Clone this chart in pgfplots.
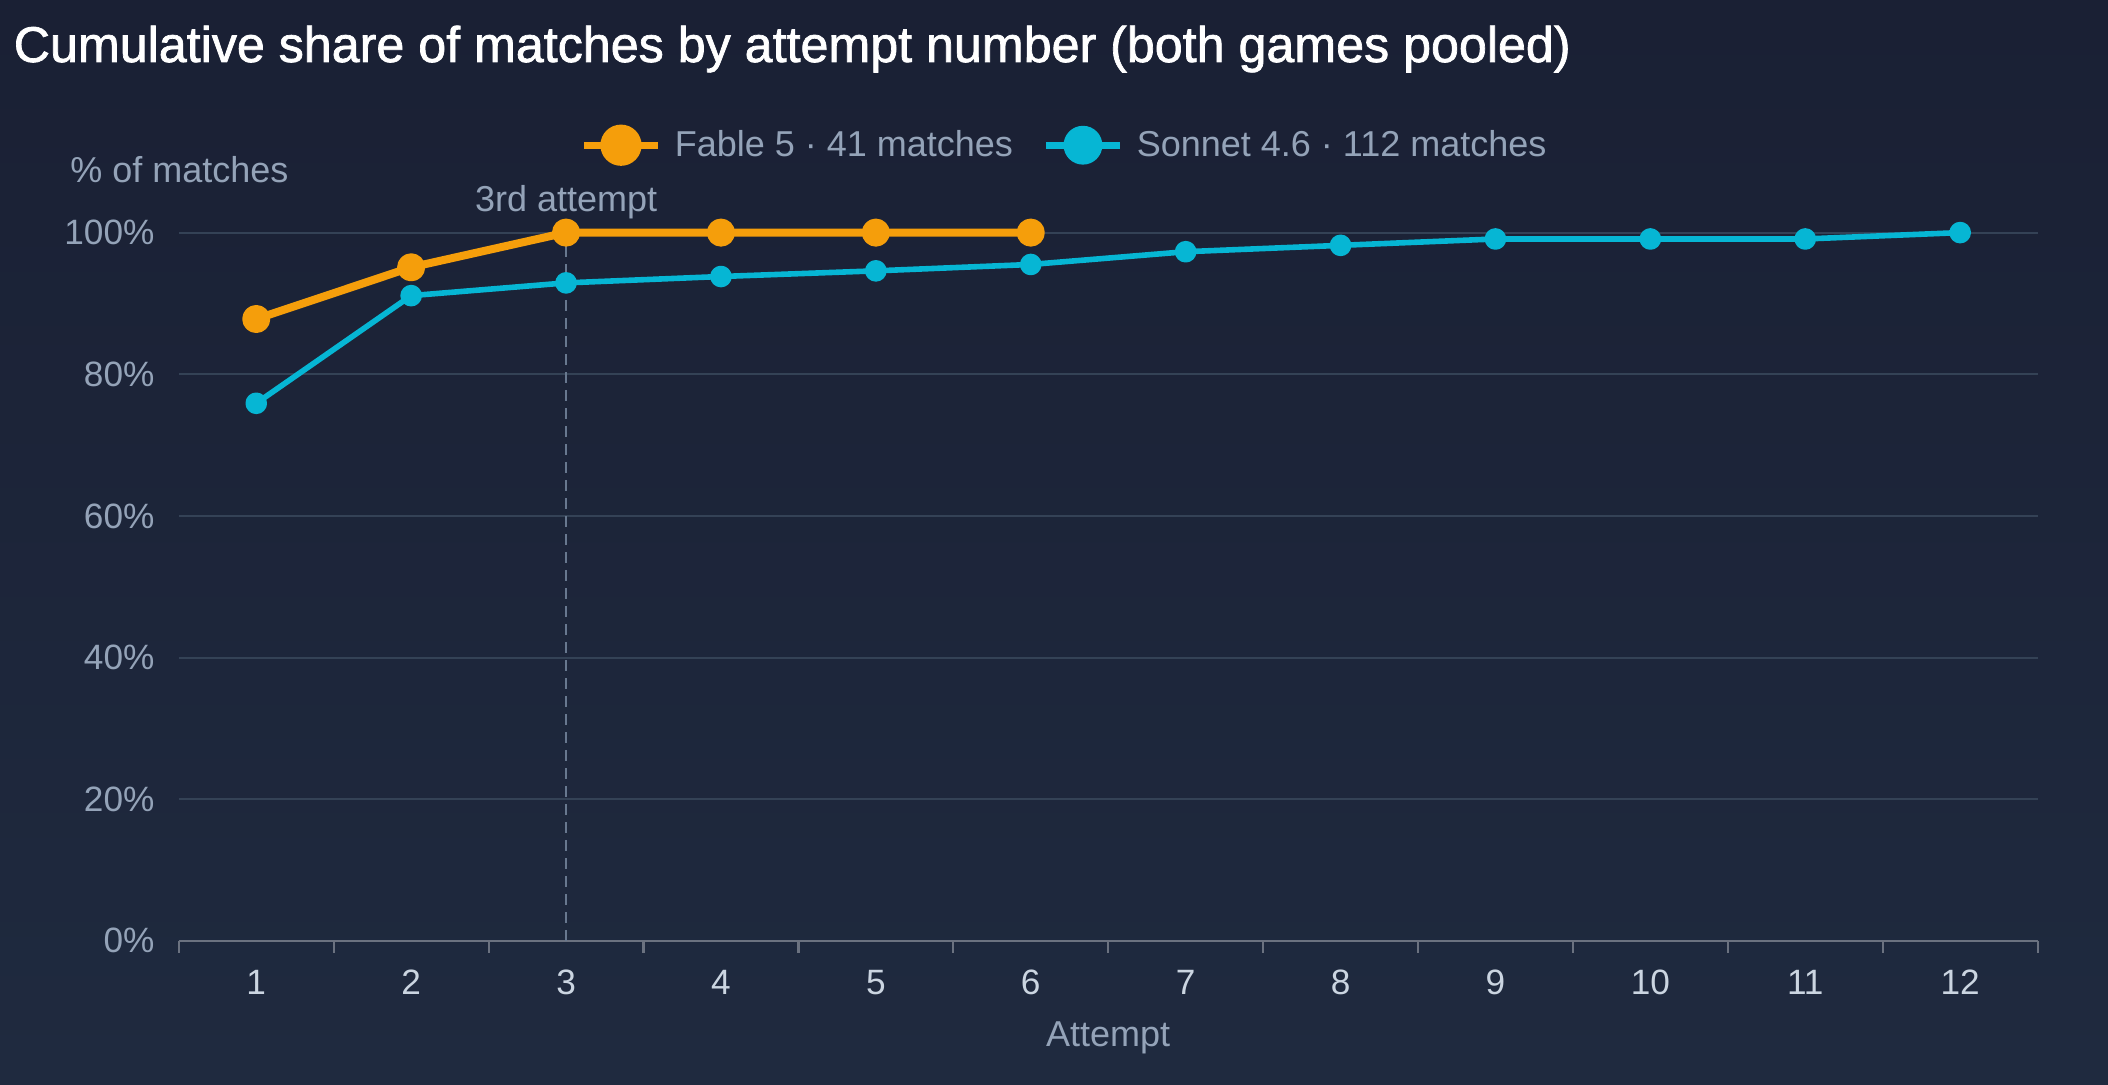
\documentclass[border=0pt]{standalone}
\usepackage{pgfplots}
\pgfplotsset{compat=1.18}
\usepackage{fontspec}
\setmainfont{Liberation Sans}
\newfontfamily\titlefont[FakeBold=1.4]{Liberation Sans}
\definecolor{bgtop}{HTML}{1A2034}
\definecolor{bgbot}{HTML}{1F2A3F}
\definecolor{gridc}{HTML}{344256}
\definecolor{axisc}{HTML}{6B7280}
\definecolor{labc}{HTML}{94A3B8}
\definecolor{tickc}{HTML}{CBD5E1}
\definecolor{fable}{HTML}{F59E0B}
\definecolor{sonnet}{HTML}{06B6D4}
\definecolor{dashc}{HTML}{68788F}
\begin{document}
\begin{tikzpicture}
\shade[top color=bgtop, bottom color=bgbot] (0,0) rectangle (1054pt,542pt);
\node[anchor=base west, text=white, font=\titlefont\fontsize{25.1}{28}\selectfont, inner sep=0pt] at (6.7pt,511pt) {Cumulative share of matches by attempt number (both games pooled)};
\node[anchor=west, text=labc, font=\fontsize{18}{20}\selectfont, inner sep=0pt] at (35pt,457.3pt) {\% of matches};
\begin{axis}[
  at={(89.4pt,71.6pt)}, anchor=south west,
  scale only axis, width=929.4pt, height=354.1pt,
  xmin=0.5, xmax=12.5, ymin=0, ymax=100,
  clip=false,
  axis x line*=bottom, axis y line*=left,
  y axis line style={draw=none},
  x axis line style={axisc, line width=1.1pt, -},
  xtick={1,...,12},
  minor xtick={0.5,1.5,...,12.5},
  major tick length=0pt, minor tick length=6pt,
  tick align=outside,
  minor tick style={axisc, line width=1.1pt},
  major tick style={draw=none},
  ytick={0,20,...,100},
  ymajorgrids, major grid style={gridc, line width=1pt},
  /pgf/number format/assume math mode=true,
  yticklabel={\pgfmathprintnumber{\tick}\%},
  yticklabel style={anchor=east, inner sep=0pt, xshift=-12pt, text=labc, font=\fontsize{17.6}{19}\selectfont},
  xticklabel style={anchor=base, inner sep=0pt, yshift=-27pt, text=tickc, font=\fontsize{17.6}{19}\selectfont},
  xlabel={Attempt},
  xlabel style={at={(axis description cs:0.5,0)}, anchor=base, yshift=-53pt, text=labc, font=\fontsize{18}{20}\selectfont, inner sep=0pt},
  legend columns=-1,
  legend style={at={(axis description cs:0.2161,1.1234)}, anchor=west, draw=none, fill=none, inner sep=0pt, outer sep=0pt,
    text=labc, font=\fontsize{18}{20}\selectfont,
    nodes={inner sep=0pt},
    /tikz/every even column/.append style={column sep=14.7pt},
    /tikz/every odd column/.append style={column sep=6.7pt}},
  legend cell align=left,
]
\addplot[fable, line width=4pt, line join=round, mark=*, mark size=5pt,
  legend image code/.code={\draw[fable, line width=3.5pt] (0pt,0pt) -- (37pt,0pt); \fill[fable] (18.5pt,0pt) circle (8.3pt);}]
  coordinates {(1,87.8) (2,95.1) (3,100) (4,100) (5,100) (6,100)};
\addlegendentry{Fable 5 · 41 matches}
\addplot[sonnet, line width=2.8pt, line join=round, mark=*, mark size=4pt,
  legend image code/.code={\draw[sonnet, line width=3.5pt] (0pt,0pt) -- (37pt,0pt); \fill[sonnet] (18.5pt,0pt) circle (8.3pt);}]
  coordinates {(1,75.9) (2,91.1) (3,92.9) (4,93.8) (5,94.6) (6,95.5) (7,97.3) (8,98.2) (9,99.1) (10,99.1) (11,99.1) (12,100)};
\addlegendentry{Sonnet 4.6 · 112 matches}
\draw[dashc, line width=1.2pt, dash pattern=on 5.5pt off 3.5pt] (axis cs:3,0) -- (axis cs:3,101.5);
\node[anchor=base, text=labc, font=\fontsize{18}{20}\selectfont, inner sep=0pt] at (axis cs:3,100) [yshift=10.4pt] {3rd attempt};
\end{axis}
\pgfresetboundingbox
\useasboundingbox (0,0) rectangle (1054pt,542pt);
\end{tikzpicture}
\end{document}
